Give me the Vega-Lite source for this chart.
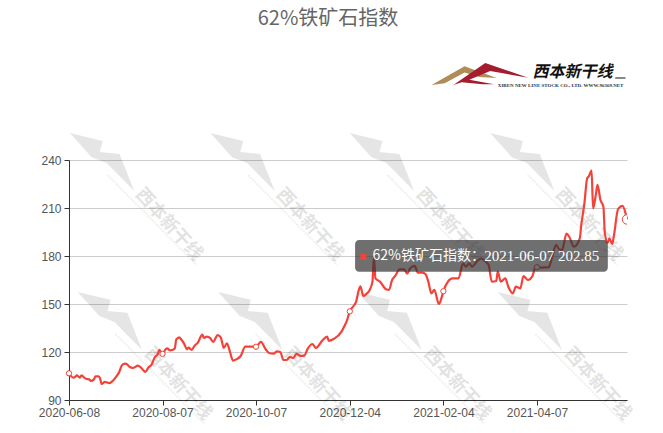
{"$schema":"https://vega.github.io/schema/vega-lite/v6.json","width":558,"height":240,"autosize":{"type":"none"},"padding":{"left":69,"top":160,"right":36,"bottom":33},"background":"#ffffff","config":{"view":{"stroke":null}},
"title":{"text":"62%铁矿石指数","anchor":"middle","dx":-20,"offset":34,"fontSize":20,"fontWeight":"normal","color":"#666666","font":"Noto Sans CJK SC"},
"datasets":{
"series":[
{"date":"2020-06-08","value":106.7},{"date":"2020-06-09","value":105.2},{"date":"2020-06-11","value":104},{"date":"2020-06-12","value":104.4},{"date":"2020-06-13","value":105.4},{"date":"2020-06-15","value":104},{"date":"2020-06-16","value":105.4},{"date":"2020-06-18","value":103.8},{"date":"2020-06-19","value":103.3},{"date":"2020-06-21","value":102.9},{"date":"2020-06-22","value":101.9},{"date":"2020-06-24","value":102.9},{"date":"2020-06-25","value":104.8},{"date":"2020-06-27","value":104.8},{"date":"2020-06-28","value":103.3},{"date":"2020-06-29","value":100},{"date":"2020-07-01","value":101.3},{"date":"2020-07-04","value":100.6},{"date":"2020-07-06","value":101.9},{"date":"2020-07-09","value":105.6},{"date":"2020-07-10","value":107.1},{"date":"2020-07-12","value":111.7},{"date":"2020-07-14","value":112.7},{"date":"2020-07-15","value":112.5},{"date":"2020-07-17","value":110.6},{"date":"2020-07-19","value":110},{"date":"2020-07-21","value":111},{"date":"2020-07-22","value":111.5},{"date":"2020-07-24","value":110.4},{"date":"2020-07-26","value":108.3},{"date":"2020-07-27","value":107.5},{"date":"2020-07-29","value":110.4},{"date":"2020-07-31","value":112.1},{"date":"2020-08-02","value":116.7},{"date":"2020-08-04","value":118.8},{"date":"2020-08-05","value":121.3},{"date":"2020-08-07","value":118.8},
{"date":"2020-08-09","value":121.7},{"date":"2020-08-10","value":122.3},{"date":"2020-08-12","value":121},{"date":"2020-08-15","value":122.1},{"date":"2020-08-16","value":127.9},{"date":"2020-08-18","value":129.2},{"date":"2020-08-19","value":128.1},{"date":"2020-08-21","value":125.4},{"date":"2020-08-23","value":121.7},{"date":"2020-08-24","value":122.7},{"date":"2020-08-26","value":121.3},{"date":"2020-08-28","value":124},{"date":"2020-08-30","value":125.8},{"date":"2020-09-02","value":130.8},{"date":"2020-09-03","value":128.8},{"date":"2020-09-05","value":129.6},{"date":"2020-09-07","value":128.8},{"date":"2020-09-09","value":126.3},{"date":"2020-09-12","value":130.6},{"date":"2020-09-14","value":129.2},{"date":"2020-09-16","value":122.5},{"date":"2020-09-18","value":125.4},{"date":"2020-09-20","value":120.2},{"date":"2020-09-22","value":114.6},{"date":"2020-09-25","value":115.8},{"date":"2020-09-27","value":117.5},{"date":"2020-09-30","value":123.3},{"date":"2020-10-03","value":123.3},{"date":"2020-10-07","value":123.3},
{"date":"2020-10-10","value":126.3},{"date":"2020-10-13","value":121.7},{"date":"2020-10-15","value":119.4},{"date":"2020-10-18","value":119},{"date":"2020-10-20","value":120.4},{"date":"2020-10-22","value":120},{"date":"2020-10-24","value":115},{"date":"2020-10-26","value":115},{"date":"2020-10-28","value":116.9},{"date":"2020-10-30","value":116.3},{"date":"2020-11-01","value":118.8},{"date":"2020-11-04","value":117.5},{"date":"2020-11-06","value":117.9},{"date":"2020-11-08","value":122.1},{"date":"2020-11-11","value":125},{"date":"2020-11-13","value":122.5},{"date":"2020-11-17","value":127.1},{"date":"2020-11-20","value":129.6},{"date":"2020-11-21","value":126.9},{"date":"2020-11-24","value":128.1},{"date":"2020-11-29","value":132.9},{"date":"2020-12-01","value":136.9},{"date":"2020-12-02","value":139},{"date":"2020-12-04","value":145.4},
{"date":"2020-12-07","value":149.4},{"date":"2020-12-08","value":151},{"date":"2020-12-10","value":158.8},{"date":"2020-12-11","value":161},{"date":"2020-12-13","value":155},{"date":"2020-12-15","value":156.3},{"date":"2020-12-17","value":158.5},{"date":"2020-12-19","value":164},{"date":"2020-12-20","value":179.5},{"date":"2020-12-21","value":166},{"date":"2020-12-24","value":164},{"date":"2020-12-28","value":159.2},{"date":"2020-12-30","value":158.8},{"date":"2021-01-01","value":165},{"date":"2021-01-03","value":167.5},{"date":"2021-01-06","value":171.7},{"date":"2021-01-09","value":171.7},{"date":"2021-01-11","value":169},{"date":"2021-01-13","value":172.3},{"date":"2021-01-16","value":173.8},{"date":"2021-01-18","value":169.6},{"date":"2021-01-21","value":169.6},{"date":"2021-01-23","value":168.8},{"date":"2021-01-25","value":164},{"date":"2021-01-27","value":156.7},{"date":"2021-01-29","value":158.8},{"date":"2021-02-01","value":150},{"date":"2021-02-03","value":154.6},{"date":"2021-02-04","value":158},
{"date":"2021-02-07","value":164},{"date":"2021-02-10","value":166},{"date":"2021-02-14","value":166},{"date":"2021-02-17","value":175.4},{"date":"2021-02-19","value":173.3},{"date":"2021-02-21","value":175.4},{"date":"2021-02-23","value":173.3},{"date":"2021-02-26","value":176.5},{"date":"2021-03-01","value":178.5},{"date":"2021-03-04","value":176.5},{"date":"2021-03-06","value":174.4},{"date":"2021-03-08","value":164},{"date":"2021-03-11","value":164.4},{"date":"2021-03-12","value":170.2},{"date":"2021-03-14","value":164},{"date":"2021-03-17","value":166},{"date":"2021-03-19","value":160.8},{"date":"2021-03-22","value":156.7},{"date":"2021-03-24","value":160.8},{"date":"2021-03-27","value":159.8},{"date":"2021-03-29","value":167.5},{"date":"2021-04-01","value":165},{"date":"2021-04-04","value":167.5},{"date":"2021-04-06","value":173},{"date":"2021-04-07","value":173},
{"date":"2021-04-10","value":172.7},{"date":"2021-04-15","value":173},{"date":"2021-04-17","value":178.5},{"date":"2021-04-20","value":186.9},{"date":"2021-04-22","value":184.2},{"date":"2021-04-24","value":183.8},{"date":"2021-04-27","value":194},{"date":"2021-04-29","value":191.7},{"date":"2021-05-02","value":185.8},{"date":"2021-05-06","value":191},{"date":"2021-05-07","value":199.4},{"date":"2021-05-09","value":211.9},{"date":"2021-05-11","value":228.5},{"date":"2021-05-12","value":229.6},{"date":"2021-05-14","value":233.3},{"date":"2021-05-15","value":209.8},{"date":"2021-05-17","value":219},{"date":"2021-05-18","value":224.4},{"date":"2021-05-20","value":215},{"date":"2021-05-22","value":210.8},{"date":"2021-05-23","value":194},{"date":"2021-05-25","value":188.3},{"date":"2021-05-26","value":191},{"date":"2021-05-28","value":187.5},{"date":"2021-05-29","value":192},{"date":"2021-06-01","value":209.4},{"date":"2021-06-04","value":211.3},{"date":"2021-06-06","value":206.7},{"date":"2021-06-07","value":202.85}
],
"symbols":[{"date":"2020-06-08","value":106.7},{"date":"2020-08-07","value":118.8},{"date":"2020-10-07","value":123.3},{"date":"2020-12-04","value":145.4},{"date":"2021-02-04","value":158},{"date":"2021-04-07","value":173}],
"wmShape":[{"date":"2020-06-29","value":238.75},{"date":"2020-09-28","value":238.75},{"date":"2020-12-25","value":238.75},{"date":"2021-03-28","value":238.75},{"date":"2020-07-04","value":139.4},{"date":"2020-10-03","value":139.4},{"date":"2020-12-30","value":139.4},{"date":"2021-04-02","value":139.4}],
"wmText":[{"date":"2020-08-11","value":199.4},{"date":"2020-11-09","value":199.4},{"date":"2021-02-08","value":199.4},{"date":"2021-05-12","value":199.4},{"date":"2020-08-17","value":100},{"date":"2020-11-14","value":100},{"date":"2021-02-13","value":100},{"date":"2021-05-18","value":100}]
},
"encoding":{
"x":{"field":"date","type":"temporal","title":null,"scale":{"type":"utc","domainRaw":{"expr":"[datetime('2020-06-08'),datetime('2020-08-07'),datetime('2020-10-07'),datetime('2020-12-04'),datetime('2021-02-04'),datetime('2021-04-07'),datetime('2021-06-07')]"},"range":[0,93.5,187,280.8,374.4,468,558]},"axis":{"values":[{"year":2020,"month":6,"date":8,"utc":true},{"year":2020,"month":8,"date":7,"utc":true},{"year":2020,"month":10,"date":7,"utc":true},{"year":2020,"month":12,"date":4,"utc":true},{"year":2021,"month":2,"date":4,"utc":true},{"year":2021,"month":4,"date":7,"utc":true}],"format":"%Y-%m-%d","grid":false,"domainColor":"#333333","tickColor":"#333333","tickSize":5,"labelFlush":false,"labelBound":false,"labelOverlap":false,"labelColor":"#555555","labelFont":"Liberation Sans","labelFontSize":12,"labelPadding":2,"labelAngle":0}},
"y":{"field":"value","type":"quantitative","title":null,"scale":{"domain":[90,240],"nice":false,"zero":false},"axis":{"values":[90,120,150,180,210,240],"grid":true,"gridColor":"#cccccc","domainColor":"#333333","tickColor":"#333333","tickSize":5,"labelColor":"#555555","labelFont":"Liberation Sans","labelFontSize":12,"labelPadding":3}}
},
"layer":[
{"data":{"name":"wmShape"},"mark":{"type":"point","filled":true,"fill":"#000000","opacity":0.1,"size":4225,"shape":"M-0.98 -0.89L0.03 -0.65L-0.06 -0.31L0.55 -0.25L1 0.89L0.15 0.03L-0.31 -0.15ZM-0.68 -0.71L-0.18 -0.55L-0.15 -0.34L-0.52 -0.49Z"}},
{"data":{"name":"wmShape"},"mark":{"type":"point","filled":false,"stroke":"#000000","strokeWidth":2,"strokeDash":[2,1],"opacity":0.05,"size":4225,"shape":"M0.18 0.4L2.92 3.17"}},
{"data":{"name":"wmText"},"mark":{"type":"text","text":"西本新干线","angle":48,"font":"Noto Sans CJK SC","fontWeight":"bold","fontSize":18,"fill":"#000000","opacity":0.11}},
{"data":{"name":"series"},"mark":{"type":"line","stroke":"#f4423a","strokeWidth":2.2,"interpolate":"monotone"}},
{"data":{"name":"symbols"},"mark":{"type":"point","filled":true,"fill":"#ffffff","stroke":"#f4423a","strokeWidth":1,"size":28,"opacity":1}},
{"data":{"values":[{"date":"2021-06-07","value":202.85}]},"mark":{"type":"point","filled":true,"fill":"#ffffff","stroke":"#f4423a","strokeWidth":1,"size":90,"opacity":1,"shape":"M0 -1A1 1 0 0 0 0 1"}},
{"data":{"values":[{"date":"2020-12-07T12:00:00Z","end":"2021-05-25","value":190,"bottom":170.2}]},"mark":{"type":"rect","fill":"#323232","opacity":0.7,"cornerRadius":4},"encoding":{"x2":{"field":"end"},"y2":{"field":"bottom"}}},
{"data":{"values":[{"date":"2020-12-13","value":179.4}]},"mark":{"type":"point","filled":true,"shape":"square","fill":"#f4423a","size":36,"opacity":1}},
{"data":{"values":[{"date":"2020-12-19","value":180,"label":"62%铁矿石指数："}]},"mark":{"type":"text","align":"left","baseline":"middle","font":"Noto Sans CJK SC","fontSize":14,"fill":"#ffffff"},"encoding":{"text":{"field":"label"}}},
{"data":{"values":[{"date":"2021-03-03","value":180,"label":"2021-06-07 202.85"}]},"mark":{"type":"text","align":"left","baseline":"middle","font":"Liberation Serif","fontSize":15,"fill":"#ffffff"},"encoding":{"text":{"field":"label"}}},
{"data":{"values":[{"date":"2021-02-18","value":293.1}]},"mark":{"type":"point","filled":true,"fill":"#b08d57","opacity":1,"size":4356,"shape":"M-1 0.3L0 -0.27L0.97 0.09L0.45 0.06L0 -0.08L-0.6 0.25Z"}},
{"data":{"values":[{"date":"2021-03-07","value":293.75}]},"mark":{"type":"point","filled":true,"fill":"#a51c30","opacity":1,"size":5776,"shape":"M-0.97 0.29L-0.13 -0.29L1 0.1L0 -0.08L-0.55 0.15L0.1 0.27L-0.2 0.27L-0.75 0.22Z"}},
{"data":{"values":[{"date":"2021-05-01","value":295,"label":"西本新干线"}]},"mark":{"type":"text","font":"Noto Sans CJK SC","fontWeight":"bold","fontStyle":"italic","fontSize":16,"fill":"#111111"},"encoding":{"text":{"field":"label"}}},
{"data":{"values":[{"date":"2021-04-23","value":286.9,"label":"XIBEN NEW LINE STOCK CO., LTD.  WWW.96369.NET"}]},"mark":{"type":"text","font":"Liberation Serif","fontWeight":"bold","fontSize":5,"fill":"#333333"},"encoding":{"text":{"field":"label"}}},
{"data":{"values":[{"date":"2021-05-30","end":"2021-06-06","value":291.25}]},"mark":{"type":"rule","stroke":"#111111","strokeWidth":1},"encoding":{"x2":{"field":"end"}}}
]}
